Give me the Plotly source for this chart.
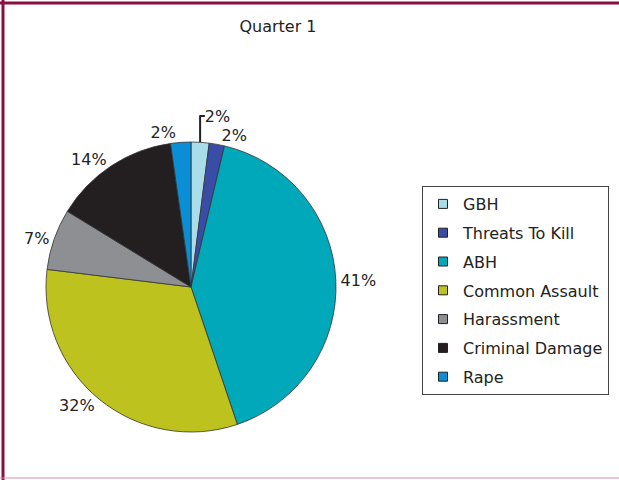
import plotly.graph_objects as go

categories = ["GBH", "Threats To Kill", "ABH", "Common Assault", "Harassment", "Criminal Damage", "Rape"]
values = [2.0, 1.7, 41.1, 32.1, 6.8, 14.0, 2.25]
colors = ["#A9DDE9", "#3A4DA6", "#00A8B9", "#BEC21E", "#8E8F93", "#231F20", "#0A8FD6"]
title_text = "Quarter 1"

FONT = "DejaVu Sans"
W, H = 619, 480

fig = go.Figure()
fig.add_trace(go.Pie(
    labels=categories, values=values, sort=False, direction="clockwise", rotation=0,
    marker=dict(colors=colors, line=dict(color="#333333", width=0.8)),
    textposition="outside", texttemplate="%{percent:.0%}",
    textfont=dict(family=FONT, size=16, color="#222222"),
    showlegend=False, hoverinfo="label+percent",
    domain=dict(x=[46 / W, 336 / W], y=[1 - 432 / H, 1 - 142 / H]),
))

for c, col in zip(categories, colors):
    fig.add_trace(go.Scatter(
        x=[None], y=[None], mode="markers", name=c, legendgroup=c,
        marker=dict(symbol="square", size=9, color=col, line=dict(color="#222222", width=1)),
    ))

fig.update_layout(
    width=W, height=H,
    margin=dict(l=0, r=0, t=0, b=0),
    paper_bgcolor="white", plot_bgcolor="white",
    title=dict(text=title_text, x=278 / W, y=1 - 26 / H, xanchor="center", yanchor="middle",
               font=dict(family=FONT, size=16, color="#222222")),
    xaxis=dict(visible=False), yaxis=dict(visible=False),
    legend=dict(x=422 / W, y=1 - 186 / H, xanchor="left", yanchor="top",
                bordercolor="#444444", borderwidth=1, bgcolor="white",
                font=dict(family=FONT, size=16, color="#222222"),
                tracegroupgap=5, itemwidth=30),
    shapes=[
        dict(type="line", xref="paper", yref="paper", x0=3 / W, x1=3 / W, y0=0, y1=1,
             line=dict(color="#8B0D43", width=3)),
        dict(type="line", xref="paper", yref="paper", x0=0, x1=1, y0=1 - 3 / H, y1=1 - 3 / H,
             line=dict(color="#8B0D43", width=3)),
        dict(type="line", xref="paper", yref="paper", x0=0, x1=1, y0=1 - 478 / H, y1=1 - 478 / H,
             line=dict(color="#D58FA8", width=1)),
    ],
)

fig.write_html("out.html", config={"displayModeBar": False},
               post_script="document.body.style.margin='0';document.body.style.overflow='hidden';")
